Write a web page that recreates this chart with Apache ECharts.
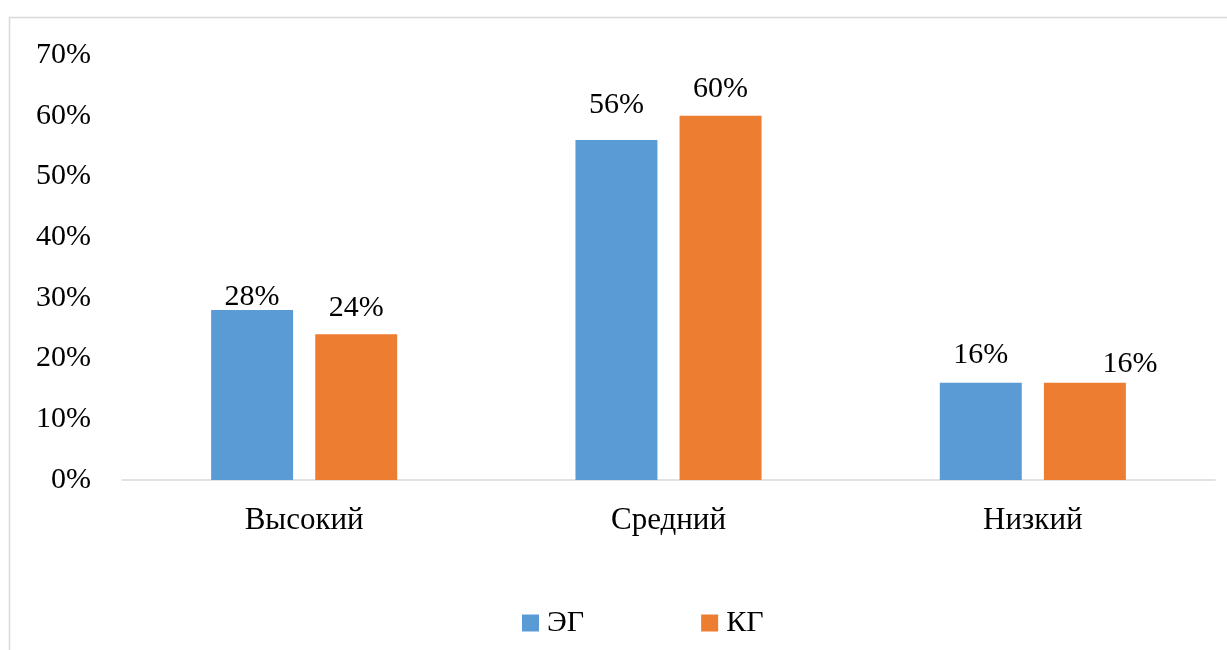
<!DOCTYPE html>
<html>
<head>
<meta charset="utf-8">
<script src="https://cdn.jsdelivr.net/npm/echarts@6/dist/echarts.min.js"></script>
<style>
  html, body { margin: 0; padding: 0; background: #fff; }
  #chart { width: 1227px; height: 650px; }
</style>
</head>
<body>
<div id="chart"></div>
<script>
// groups of respondents by level
const categories = ['Высокий', 'Средний', 'Низкий']
const egValues = [28, 56, 16]
const kgValues = [24, 60, 16]
const yTicks = [0, 10, 20, 30, 40, 50, 60, 70]

const FONT = "'Liberation Serif', 'Times New Roman', serif"
// label nudges (labels were moved by hand there)
const egOffsets = [[0, 7], [0, -15], [0, -8]]
const kgOffsets = [[0, -6], [0, -7], [45, 1]]

const chart = echarts.init(document.getElementById('chart'), null, {renderer: 'canvas'})

const makeData = (vals, offs) => vals.map((v, i) => ({
    value: v,
    label: {offset: offs[i]}
}))

const labelStyle = {
    show: true,
    position: 'top',
    formatter: '{c}%',
    fontFamily: FONT,
    fontSize: 30,
    color: '#000'
}

chart.setOption({
    animation: false,
    textStyle: {fontFamily: FONT},
    graphic: [{
        type: 'rect',
        shape: {x: 9.5, y: 17.5, width: 1240, height: 660},
        style: {fill: 'none', stroke: '#D9D9D9', lineWidth: 1.5},
        silent: true
    }],
    grid: {left: 122, right: 12, top: 55, bottom: 170},
    legend: {
        bottom: 7,
        left: 517,
        itemWidth: 17,
        itemHeight: 17,
        itemGap: 117,
        icon: 'rect',
        textStyle: {fontFamily: FONT, fontSize: 30, color: '#000', padding: [0, 0, 0, 3]},
        data: ['ЭГ', 'КГ']
    },
    xAxis: {
        type: 'category',
        data: categories,
        axisLine: {lineStyle: {color: '#D9D9D9', width: 1.5}},
        axisTick: {show: false},
        axisLabel: {fontFamily: FONT, fontSize: 31, color: '#000', margin: 25}
    },
    yAxis: {
        type: 'value',
        min: yTicks[0],
        max: yTicks[yTicks.length - 1],
        interval: 10,
        splitLine: {show: false},
        axisLine: {show: false},
        axisTick: {show: false},
        axisLabel: {
            fontFamily: FONT, fontSize: 30, color: '#000', margin: 31,
            formatter: '{value}%'
        }
    },
    series: [
        {
            name: 'ЭГ',
            type: 'bar',
            barWidth: '22.5%',
            barGap: '27%',
            itemStyle: {color: '#5B9BD5'},
            label: labelStyle,
            data: makeData(egValues, egOffsets)
        },
        {
            name: 'КГ',
            type: 'bar',
            barWidth: '22.5%',
            itemStyle: {color: '#ED7D31'},
            label: labelStyle,
            data: makeData(kgValues, kgOffsets)
        }
    ]
})
</script>
</body>
</html>
